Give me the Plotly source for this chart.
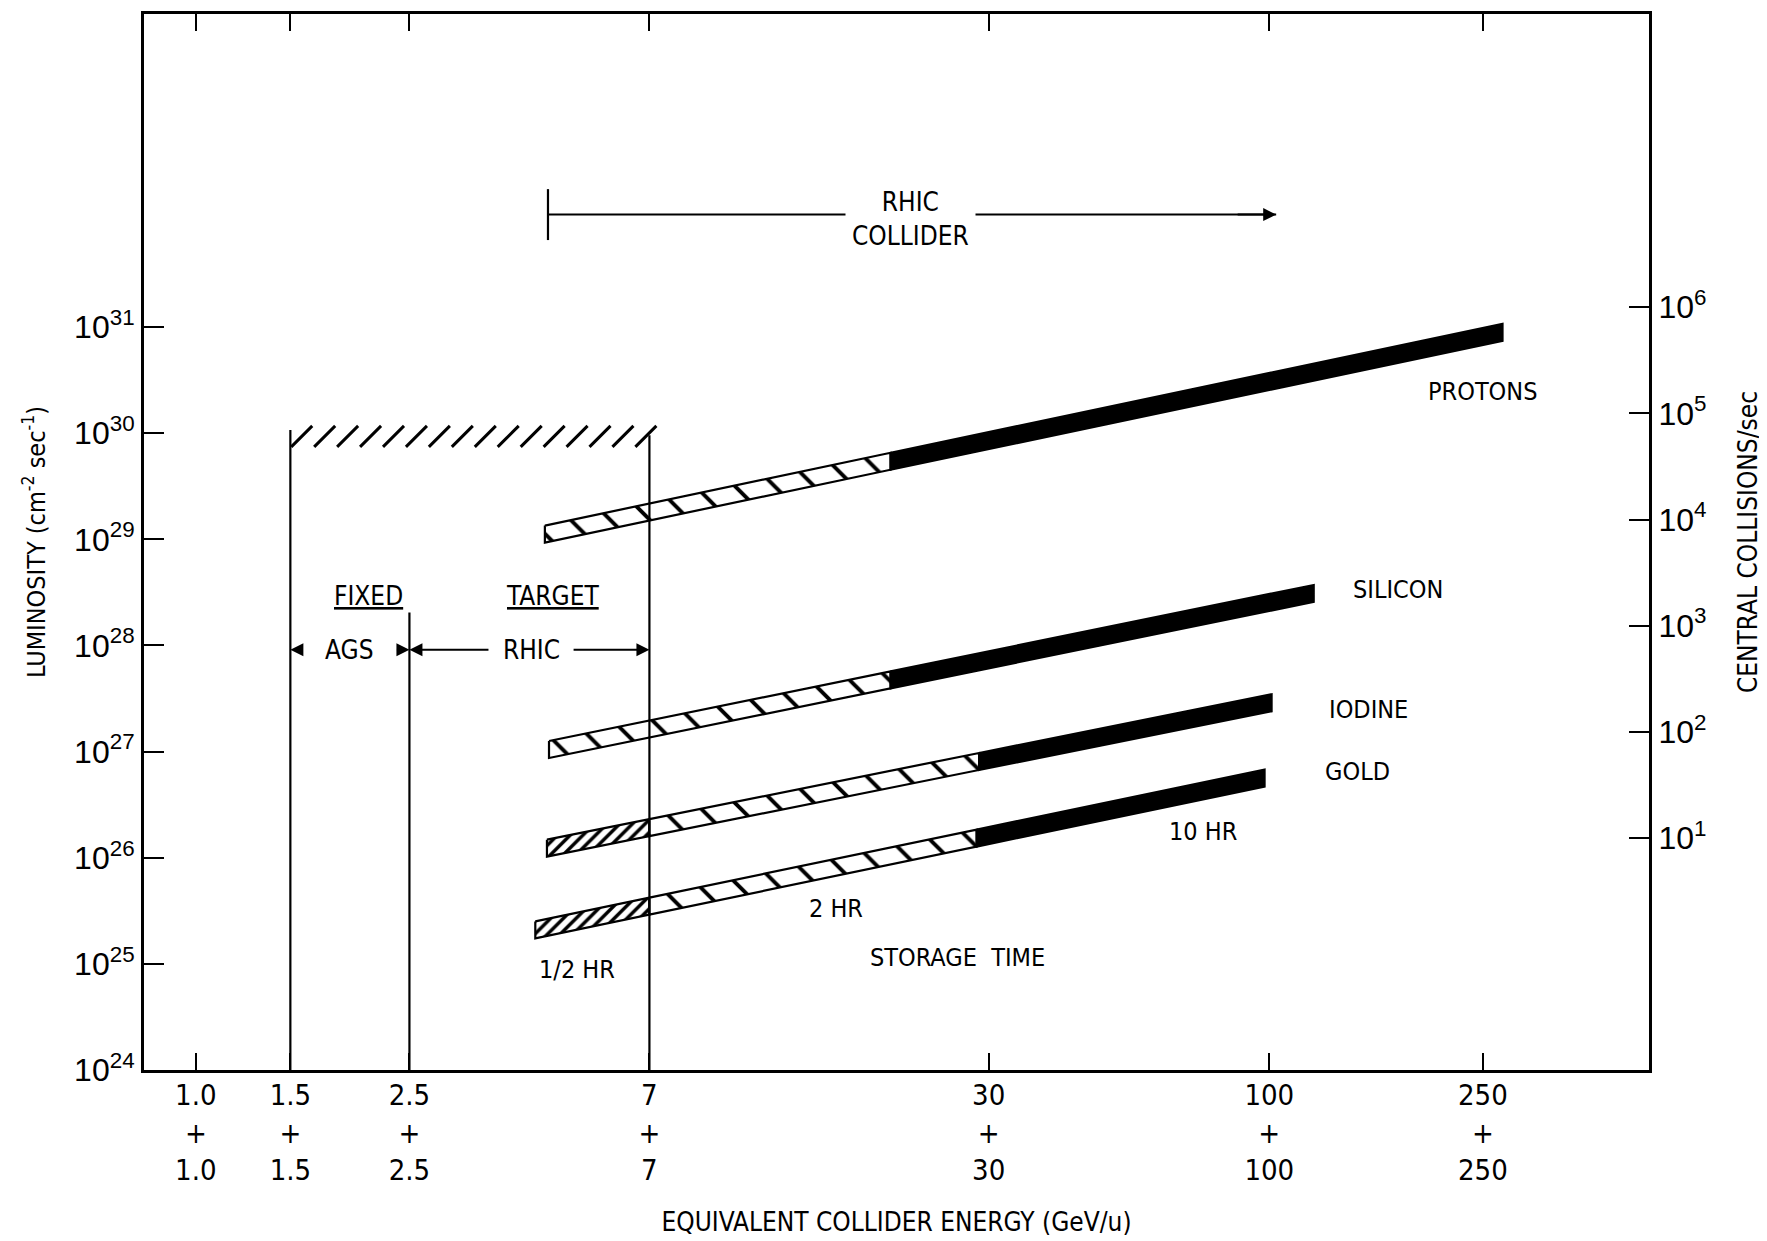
import numpy as np
import plotly.graph_objects as go

# ---------------- data ----------------
energy_ticks = [1.0, 1.5, 2.5, 7, 30, 100, 250]
energy_tick_labels = ["1.0", "1.5", "2.5", "7", "30", "100", "250"]
lum_exponents = [24, 25, 26, 27, 28, 29, 30, 31]
coll_exponents = [1, 2, 3, 4, 5, 6]

species = ["PROTONS", "SILICON", "IODINE", "GOLD"]
e_start = [4.47, 4.55, 4.51, 4.29]          # GeV/u, band start
e_dense_end = [None, None, 7.0, 7.0]        # end of 1/2 HR (dense hatch) part
e_solid_start = [19.7, 19.7, 28.8, 28.5]    # start of 10 HR (solid) part
e_end = [272, 121, 101, 98]                 # band end
loglum_start = [29.05, 27.02, 26.09, 25.32] # log10 luminosity at start
loglum_end = [30.95, 28.49, 27.46, 26.75]   # log10 luminosity at end
band_half = 0.08                            # half thickness of a band (decades)

# fixed-target region boundaries
boundary_e = [1.5, 2.5, 7.0]
boundary_top_loglum = [30.03, 28.31, 29.98]
limit_loglum = 29.97                         # hatched luminosity limit (1.5 - 7 GeV/u)

# RHIC collider range arrow
rhic_range = [4.53, 103]
rhic_loglum = 32.06

TICKF = "DejaVu Sans Condensed, Liberation Sans Narrow, Liberation Sans, Arial, sans-serif"
TXT = "DejaVu Sans Condensed, Liberation Sans Narrow, Liberation Sans, Arial, sans-serif"
NUMF = "Liberation Sans, Arial, sans-serif"

fig = go.Figure()


def P(v):
    return 10.0 ** float(v)


def center(i, e):
    t = (np.log10(e) - np.log10(e_start[i])) / (np.log10(e_end[i]) - np.log10(e_start[i]))
    return loglum_start[i] + t * (loglum_end[i] - loglum_start[i])


def band(i, ea, eb, kind):
    ca, cb = center(i, ea), center(i, eb)
    xs = [ea, eb, eb, ea, ea]
    ys = [P(ca + band_half), P(cb + band_half), P(cb - band_half),
          P(ca - band_half), P(ca + band_half)]
    kw = dict(x=xs, y=ys, mode="lines", fill="toself", showlegend=False,
              hoverinfo="skip", line=dict(color="black", width=2.2))
    if kind == "solid":
        kw["fillcolor"] = "black"
    elif kind == "open":
        kw["fillcolor"] = "white"
        kw["fillpattern"] = dict(shape="\\", size=28, solidity=0.14,
                                 fgcolor="black", bgcolor="white", fillmode="replace")
    else:
        kw["fillcolor"] = "white"
        kw["fillpattern"] = dict(shape="/", size=9, solidity=0.38,
                                 fgcolor="black", bgcolor="white", fillmode="replace")
    fig.add_trace(go.Scatter(**kw))


for i, name in enumerate(species):
    open_start = e_start[i]
    if e_dense_end[i] is not None:
        band(i, e_start[i], e_dense_end[i], "dense")
        open_start = e_dense_end[i]
    band(i, open_start, e_solid_start[i], "open")
    band(i, e_solid_start[i], e_end[i], "solid")

# vertical boundary lines
for e, top in zip(boundary_e, boundary_top_loglum):
    fig.add_trace(go.Scatter(x=[e, e], y=[P(24), P(top)], mode="lines",
                             line=dict(color="black", width=2.2),
                             showlegend=False, hoverinfo="skip"))

# hatched limit line (slashes only)
hx = np.geomspace(boundary_e[0] * 1.05, boundary_e[2] * 0.985, 16)
fig.add_trace(go.Scatter(x=hx, y=[P(limit_loglum)] * len(hx), mode="markers",
                         marker=dict(symbol="line-ne", size=21,
                                     line=dict(color="black", width=3)),
                         showlegend=False, hoverinfo="skip"))

# RHIC collider bracket + line
fig.add_trace(go.Scatter(x=[rhic_range[0], rhic_range[0]],
                         y=[P(rhic_loglum - 0.24), P(rhic_loglum + 0.24)],
                         mode="lines", line=dict(color="black", width=2.2),
                         showlegend=False, hoverinfo="skip"))
fig.add_trace(go.Scatter(x=rhic_range, y=[P(rhic_loglum)] * 2, mode="lines",
                         line=dict(color="black", width=2),
                         showlegend=False, hoverinfo="skip"))

# right axis dummy trace
fig.add_trace(go.Scatter(x=[1.0], y=[10.0], yaxis="y2", mode="markers",
                         marker=dict(opacity=0), showlegend=False, hoverinfo="skip"))

ann = []


def text(x, y, s, size=25, **kw):
    d = dict(x=x, y=y, xref="x", yref="y", text=s, showarrow=False,
             font=dict(family=TXT, size=size, color="black"))
    d.update(kw)
    ann.append(d)


L = lambda v: float(np.log10(v))
text(2.398, 30.39, "PROTONS")
text(2.240, 28.53, "SILICON")
text(2.184, 27.40, "IODINE")
text(2.165, 26.81, "GOLD")
text(1.877, 26.25, "10 HR")
text(1.193, 25.52, "2 HR")
text(1.420, 25.06, "STORAGE  TIME")
text(0.710, 24.95, "1/2 HR")
text(1.331, rhic_loglum - 0.04, "RHIC<br>COLLIDER", size=26, bgcolor="white",
     borderpad=6)
text(0.321, 28.47, "<u>FIXED</u>", size=26)
text(0.664, 28.47, "<u>TARGET</u>", size=26)
text(0.287, 27.96, "AGS", size=26)
text(0.626, 27.96, "RHIC", size=26)

# arrows
arrow_common = dict(xref="x", yref="y", text="", showarrow=True, arrowhead=2,
                    arrowsize=1.3, arrowwidth=2, arrowcolor="black")
ann.append(dict(x=L(rhic_range[1]), y=rhic_loglum, ax=-40, ay=0, **arrow_common))
ann.append(dict(x=L(boundary_e[0]), y=27.96, ax=14, ay=0, **arrow_common))
ann.append(dict(x=L(boundary_e[1]), y=27.96, ax=-14, ay=0, **arrow_common))
ann.append(dict(x=L(boundary_e[1]), y=27.96, ax=0.548, ay=27.96, axref="x", ayref="y",
                **arrow_common))
ann.append(dict(x=L(boundary_e[2]), y=27.96, ax=0.701, ay=27.96, axref="x", ayref="y",
                **arrow_common))

fig.update_layout(
    width=1759, height=1233,
    margin=dict(l=136, r=118, t=3, b=171),
    paper_bgcolor="white", plot_bgcolor="white",
    showlegend=False,
    annotations=ann,
    xaxis=dict(type="log", range=[-0.0966, 2.7075],
               tickvals=energy_ticks,
               ticktext=[f"{t}<br>+<br>{t}" for t in energy_tick_labels],
               tickfont=dict(family=TICKF, size=29, color="black"),
               ticks="inside", ticklen=17, tickwidth=2.2, tickcolor="black",
               ticklabelstandoff=-3,
               showline=True, linecolor="black", linewidth=3, mirror="ticks",
               showgrid=False, zeroline=False,
               title=dict(text="EQUIVALENT COLLIDER ENERGY (GeV/u)",
                          font=dict(family=TXT, size=26, color="black"), standoff=27)),
    yaxis=dict(type="log", range=[24, 33.95],
               tickvals=[P(e) for e in lum_exponents],
               ticktext=[f"10<sup>{e}</sup>" for e in lum_exponents],
               tickfont=dict(family=NUMF, size=32, color="black"),
               ticks="inside", ticklen=20, tickwidth=2.2, tickcolor="black",
               showline=True, linecolor="black", linewidth=3,
               showgrid=False, zeroline=False,
               title=dict(text="LUMINOSITY (cm<sup>-2</sup> sec<sup>-1</sup>)",
                          font=dict(family=TXT, size=25, color="black"), standoff=22)),
    yaxis2=dict(type="log", range=[-1.187, 8.763], overlaying="y", side="right",
                tickvals=[P(e) for e in coll_exponents],
                ticktext=[f"10<sup>{e}</sup>" for e in coll_exponents],
                tickfont=dict(family=NUMF, size=32, color="black"),
                ticks="inside", ticklen=20, tickwidth=2.2, tickcolor="black",
                showline=True, linecolor="black", linewidth=3,
                showgrid=False, zeroline=False,
                title=dict(text="CENTRAL COLLISIONS/sec",
                           font=dict(family=TXT, size=26, color="black"), standoff=34)),
)

fig.write_html("out.html")
